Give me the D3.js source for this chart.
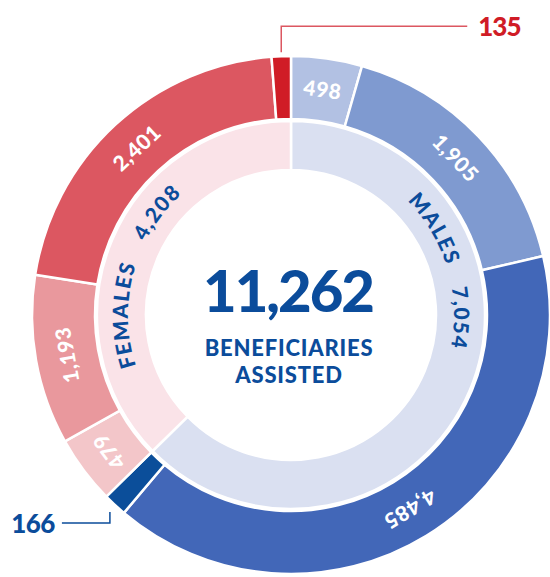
<!DOCTYPE html>
<html>
<head>
<meta charset="utf-8">
<script src="https://cdn.jsdelivr.net/npm/d3@7"></script>
<style>
  body { margin: 0; background: #fff; }
  svg { display: block; font-family: Lato, "Open Sans", sans-serif; }
</style>
</head>
<body>
<svg id="chart" width="550" height="577"></svg>
<script>
// --- data ---
const groups = ["MALES", "FEMALES"];
const groupTotals = [7054, 4208];
const maleValues = [498, 1905, 4485, 166];
const femaleValues = [479, 1193, 2401, 135];
const totalLabel = "11,262";
const centerLines = ["BENEFICIARIES", "ASSISTED"];

const innerColors = ["#dae0f1", "#fae3e8"];
const maleColors = ["#b2c1e3", "#7f9ad0", "#4267b8", "#0b4e9a"];
const femaleColors = ["#f3c6c9", "#e9989d", "#dc5761", "#d01c26"];
const navy = "#0b4c9b";

(function () {
  const svg = d3.select("#chart");
  const cx = 291, cy = 315;
  const r0 = 145, r1 = 194, r2 = 196, r3 = 259;
  const fmt = d3.format(",");

  const g = svg.append("g").attr("transform", `translate(${cx},${cy})`);

  const pie = d3.pie().sort(null).value(d => d.value);

  const innerData = pie(groups.map((name, i) => ({ name, value: groupTotals[i], color: innerColors[i] })));
  const outerData = pie(
    maleValues.map((v, i) => ({ value: v, color: maleColors[i] }))
      .concat(femaleValues.map((v, i) => ({ value: v, color: femaleColors[i] })))
  );

  const innerArc = d3.arc().innerRadius(r0).outerRadius(r1);
  const outerArc = d3.arc().innerRadius(r2).outerRadius(r3);

  g.selectAll("path.inner")
    .data(innerData)
    .enter()
    .append("path")
    .attr("class", "inner")
    .attr("d", innerArc)
    .attr("fill", d => d.data.color)
    .attr("stroke", "#fff")
    .attr("stroke-width", 2.5);

  g.selectAll("path.outer")
    .data(outerData)
    .enter()
    .append("path")
    .attr("class", "outer")
    .attr("d", outerArc)
    .attr("fill", d => d.data.color)
    .attr("stroke", "#fff")
    .attr("stroke-width", 2.5);

  // outer labels, rotated along the ring (small slices get callouts)
  const labelR = (r2 + r3) / 2;
  const deg = a => a * 180 / Math.PI;
  outerData.forEach(d => {
    if (d.data.value < 200) return;
    const a = (d.startAngle + d.endAngle) / 2;
    const x = labelR * Math.sin(a), y = -labelR * Math.cos(a);
    g.append("text")
      .attr("transform", `translate(${x},${y}) rotate(${deg(a)})`)
      .attr("text-anchor", "middle")
      .attr("dy", "0.36em")
      .attr("fill", "#fff")
      .style("font-size", "21px")
      .style("font-weight", 900)
      .style("letter-spacing", "0.5px")
      .text(fmt(d.data.value));
  });

  // callouts for the tiny slices
  const small = outerData.filter(d => d.data.value < 200);
  small.forEach(d => {
    const a = (d.startAngle + d.endAngle) / 2;
    const x = r3 * Math.sin(a), y = -r3 * Math.cos(a);
    const isTop = y < 0;
    const col = isTop ? "#dc5761" : navy;
    const txtCol = isTop ? "#d01c26" : navy;
    if (isTop) {
      const ly = y - 30;
      g.append("path")
        .attr("d", `M${x},${y - 4}V${ly}H${x + 186}`)
        .attr("fill", "none").attr("stroke", col).attr("stroke-width", 1.5);
      g.append("text")
        .attr("x", x + 197).attr("y", ly + 10)
        .attr("fill", txtCol)
        .style("font-size", "26px").style("font-weight", 900)
        .style("letter-spacing", "-1px")
        .text(fmt(d.data.value));
    } else {
      const ly = y + 18;
      g.append("path")
        .attr("d", `M${x - 5},${y + 7}V${ly}H${x - 53}`)
        .attr("fill", "none").attr("stroke", col).attr("stroke-width", 1.5);
      g.append("text")
        .attr("x", x - 60).attr("y", ly + 10)
        .attr("text-anchor", "end")
        .attr("fill", txtCol)
        .style("font-size", "26px").style("font-weight", 900)
        .style("letter-spacing", "-0.5px")
        .text(fmt(d.data.value));
    }
  });

  // curved labels in inner ring
  const tr = 163;
  g.append("path")
    .attr("id", "ringPath")
    .attr("d", `M0,${-tr}A${tr},${tr} 0 1 1 0,${tr}A${tr},${tr} 0 1 1 0,${-tr}`)
    .attr("fill", "none");

  const ringLabels = [
    { text: groups[0], at: 59 },
    { text: fmt(groupTotals[0]), at: 91 },
    { text: groups[1], at: 270 },
    { text: fmt(groupTotals[1]), at: 307.5 }
  ];
  ringLabels.forEach(l => {
    g.append("text")
      .attr("fill", navy)
      .style("font-size", "21px")
      .style("font-weight", 900)
      .style("letter-spacing", "1.5px")
      .append("textPath")
      .attr("href", "#ringPath")
      .attr("startOffset", `${l.at / 360 * 100}%`)
      .attr("text-anchor", "middle")
      .text(l.text);
  });

  // center text
  g.append("text")
    .attr("x", -3).attr("y", -3)
    .attr("text-anchor", "middle")
    .attr("fill", navy)
    .style("font-size", "58px")
    .style("font-weight", 900)
    .style("letter-spacing", "-2px")
    .text(totalLabel);

  centerLines.forEach((t, i) => {
    g.append("text")
      .attr("x", -2).attr("y", 41 + i * 27)
      .attr("text-anchor", "middle")
      .attr("fill", navy)
      .style("font-size", "22px")
      .style("font-weight", 900)
      .style("letter-spacing", "0.8px")
      .text(t);
  });
})();
</script>
</body>
</html>
